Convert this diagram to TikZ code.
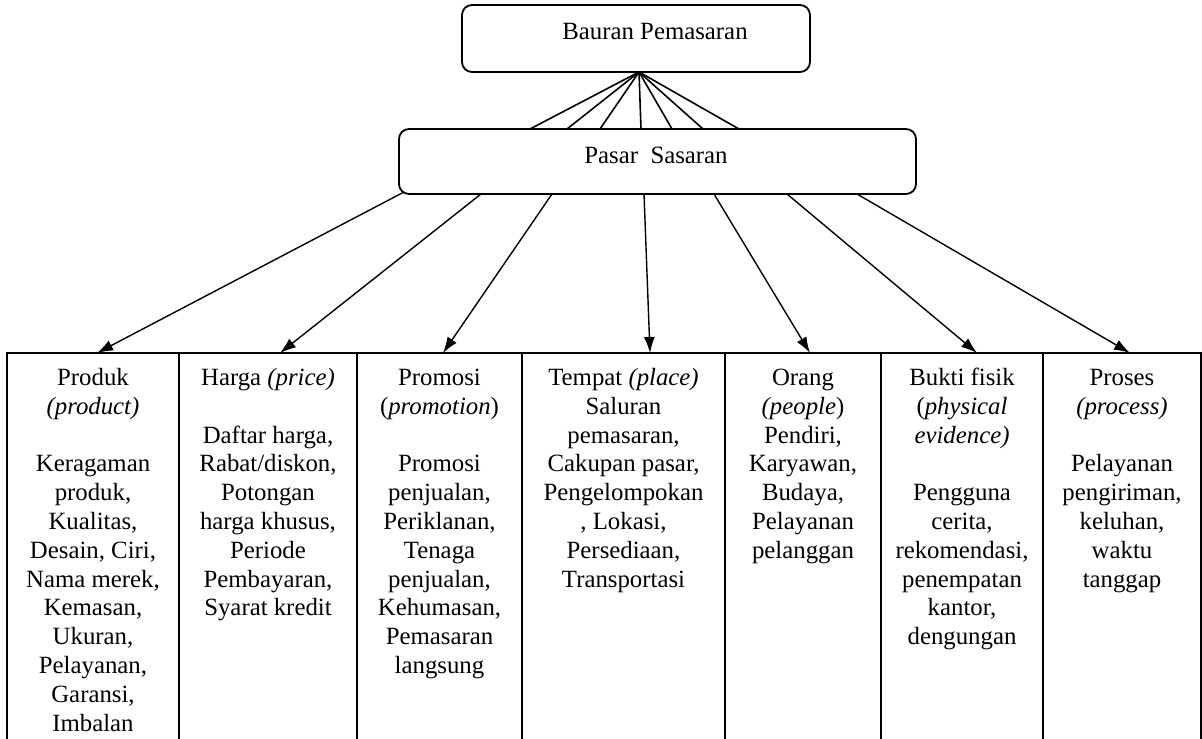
\documentclass[tikz,border=0pt]{standalone}
\usepackage{fontspec}
\setmainfont{Liberation Serif}
\usetikzlibrary{arrows.meta,calc}
\begin{document}
\begin{tikzpicture}[x=0.5pt,y=-0.5pt,
  font=\fontsize{12.4pt}{14.4pt}\selectfont,
  rbox/.style={draw, line width=0.9pt, rounded corners=5pt, inner sep=0pt, outer sep=0pt},
  col/.style={draw, line width=0.9pt, anchor=north west, inner sep=0pt, outer sep=0pt, minimum height=210pt},
  txt/.style={anchor=north, align=center, inner sep=0pt},
  lnk/.style={line width=0.8pt},
  arr/.style={line width=0.7pt, -{Latex[length=8pt,width=5.5pt]}}]
\clip (0,0) rectangle (1202,738);
% top boxes
\node[rbox, minimum width=174pt, minimum height=33.5pt] (bauran) at (636,38.5) {};
\node[anchor=base, inner sep=0pt] (bauranT) at (655,40) {Bauran Pemasaran};
\node[rbox, minimum width=258.5pt, minimum height=32.5pt] (pasar) at (657.5,161.5) {};
\node[anchor=base, inner sep=0pt] (pasarT) at (656,163) {Pasar\ \ Sasaran};
% fan lines
\foreach \d in {-127.5,-90.5,-57.5,-16.5,14.5,45.5,81.5}
  \draw[lnk] ($(bauran.south)+(3,0)$) -- ($(pasar.north)+(\d,0)$);
% columns
\node[col, minimum width=86pt]   (c1) at (7,353) {};
\node[col, minimum width=89pt]   (c2) at (179,353) {};
\node[col, minimum width=82.5pt] (c3) at (357,353) {};
\node[col, minimum width=101.5pt](c4) at (522,353) {};
\node[col, minimum width=78pt]   (c5) at (725,353) {};
\node[col, minimum width=81pt]   (c6) at (881,353) {};
\node[col, minimum width=79pt]   (c7) at (1043,353) {};
% arrows
\draw[arr] ($(pasar.south)+(-253.5,-2)$) -- ($(c1.north)+(4,0)$);
\draw[arr] ($(pasar.south)+(-176.5,0)$) -- ($(c2.north)+(12,0)$);
\draw[arr] ($(pasar.south)+(-105.5,0)$) -- ($(c3.north)+(3.5,0)$);
\draw[arr] ($(pasar.south)+(-13.5,0)$) -- ($(c4.north)+(26.5,0)$);
\draw[arr] ($(pasar.south)+(56.5,0)$) -- ($(c5.north)+(7,0)$);
\draw[arr] ($(pasar.south)+(129.5,0)$) -- ($(c6.north)+(15,0)$);
\draw[arr] ($(pasar.south)+(199.5,0)$) -- ($(c7.north)+(8,0)$);
% column texts
\node[txt] (t1) at ($(c1.north)+(0,12)$) {\strut Produk\\ \textit{(product)}\\[14.4pt] Keragaman\\ produk,\\ Kualitas,\\ Desain, Ciri,\\ Nama merek,\\ Kemasan,\\ Ukuran,\\ Pelayanan,\\ Garansi,\\ Imbalan};
\node[txt] (t2) at ($(c2.north)+(0,12)$) {\strut Harga \textit{(price)}\\[14.4pt] Daftar harga,\\ Rabat/diskon,\\ Potongan\\ harga khusus,\\ Periode\\ Pembayaran,\\ Syarat kredit};
\node[txt] (t3) at ($(c3.north)+(0,12)$) {\strut Promosi\\ (\textit{promotion})\\[14.4pt] Promosi\\ penjualan,\\ Periklanan,\\ Tenaga\\ penjualan,\\ Kehumasan,\\ Pemasaran\\ langsung};
\node[txt] (t4) at ($(c4.north)+(0,12)$) {\strut Tempat \textit{(place)}\\ Saluran\\ pemasaran,\\ Cakupan pasar,\\ Pengelompokan\\ , Lokasi,\\ Persediaan,\\ Transportasi};
\node[txt] (t5) at ($(c5.north)+(0,12)$) {\strut Orang\\ \textit{(people})\\ Pendiri,\\ Karyawan,\\ Budaya,\\ Pelayanan\\ pelanggan};
\node[txt] (t6) at ($(c6.north)+(0,12)$) {\strut Bukti fisik\\ (\textit{physical}\\ \textit{evidence)}\\[14.4pt] Pengguna\\ cerita,\\ rekomendasi,\\ penempatan\\ kantor,\\ dengungan};
\node[txt] (t7) at ($(c7.north)+(0,12)$) {\strut Proses\\ \textit{(process)}\\[14.4pt] Pelayanan\\ pengiriman,\\ keluhan,\\ waktu\\ tanggap};
\end{tikzpicture}
\end{document}
